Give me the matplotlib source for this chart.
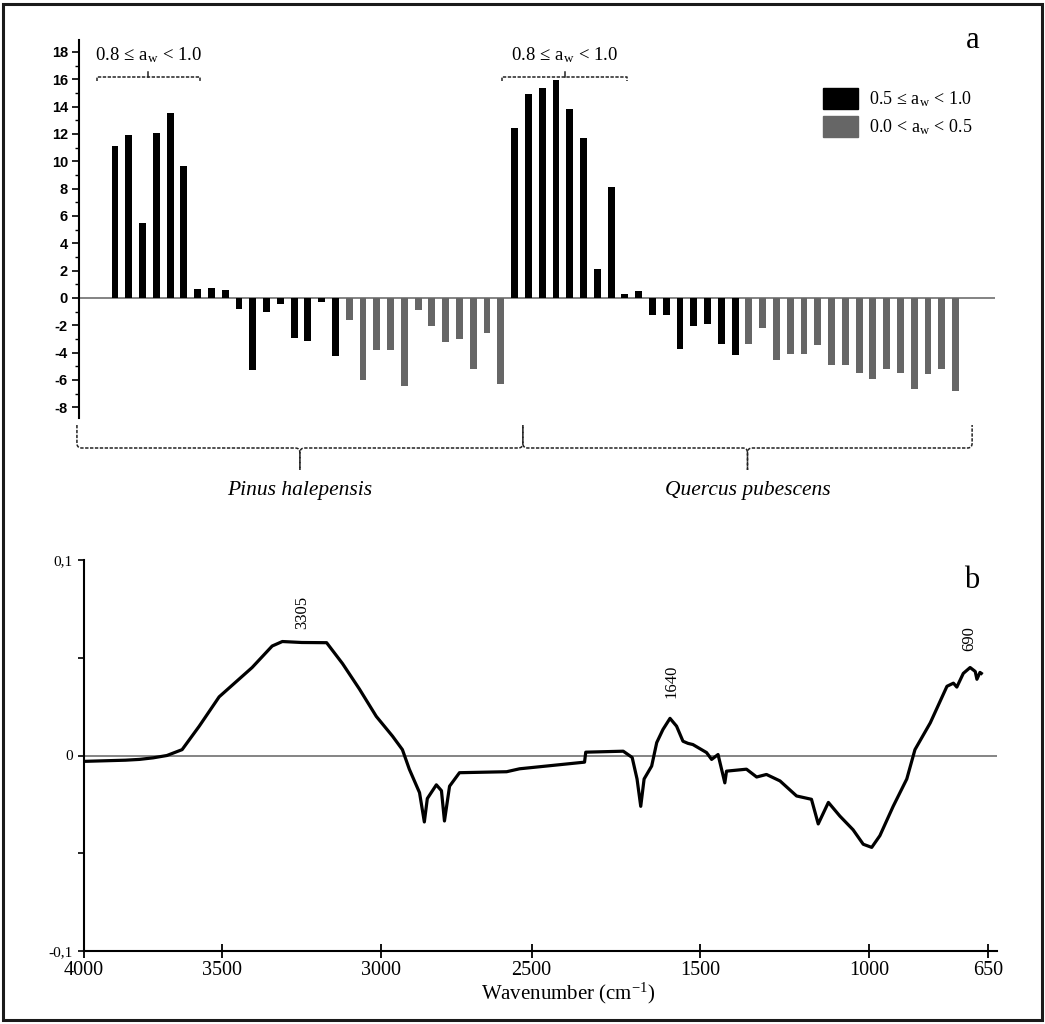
import matplotlib
matplotlib.use('Agg')
import matplotlib.pyplot as plt
import numpy as np
from matplotlib.patches import Patch, Rectangle
from matplotlib.lines import Line2D
from matplotlib.transforms import blended_transform_factory

plt.rcParams['font.family'] = ['Liberation Serif', 'DejaVu Serif']
plt.rcParams['mathtext.fontset'] = 'custom'
plt.rcParams['mathtext.rm'] = 'Liberation Serif'
plt.rcParams['mathtext.it'] = 'Liberation Serif:italic'

# ---- panel a: bar values (black = 0.5<=aw<1.0, gray = 0.0<aw<0.5)
pinus_high = [11.1, 11.9, 5.5, 12.1, 13.55, 9.65, 0.66, 0.76, 0.59, -0.78,
              -5.3, -1.05, -0.41, -2.95, -3.12, -0.32, -4.22]
pinus_low = [-1.59, -6.02, -3.83, -3.83, -6.46, -0.85, -2.02, -3.2, -3.0,
             -5.2, -2.56, -6.27]
quercus_high = [12.46, 14.95, 15.37, 15.93, 13.83, 11.73, 2.12, 8.12, 0.32,
                0.51, -1.22, -1.22, -3.76, -2.02, -1.88, -3.39, -4.2]
quercus_low = [-3.39, -2.2, -4.56, -4.1, -4.1, -3.46, -4.93, -4.93, -5.46,
               -5.93, -5.2, -5.46, -6.66, -5.54, -5.2, -6.83]
species = ['Pinus halepensis', 'Quercus pubescens']
legend_labels = [r'0.5$\,\leq\,$a$_{\mathrm{w}}$$\,<\,$1.0',
                 r'0.0$\,<\,$a$_{\mathrm{w}}$$\,<\,$0.5']
bracket_label = r'0.8$\,\leq\,$a$_{\mathrm{w}}$$\,<\,$1.0'

# ---- panel b: FTIR difference spectrum (wavenumber, absorbance)
wavenumber = [4000, 3950, 3900, 3850, 3800, 3750, 3700, 3645, 3583, 3511,
              3406, 3343, 3311, 3250, 3172, 3122, 3069, 3016, 2963, 2930,
              2907, 2873, 2857, 2847, 2817, 2800, 2790, 2773, 2740, 2583,
              2540, 2185, 2178, 1955, 1902, 1873, 1851, 1831, 1786, 1756,
              1719, 1677, 1638, 1600, 1570, 1541, 1480, 1465, 1446, 1426,
              1421, 1362, 1332, 1303, 1263, 1214, 1170, 1150, 1120, 1086,
              1047, 1017, 992, 968, 929, 889, 865, 820, 771, 752, 742, 723,
              703, 688, 683, 674, 670]
absorb = [-0.003, -0.0028, -0.0026, -0.0024, -0.002, -0.0012, 0.0, 0.003,
          0.015, 0.030, 0.045, 0.056, 0.0583, 0.0578, 0.0577, 0.047, 0.034,
          0.020, 0.0099, 0.003, -0.007, -0.019, -0.034, -0.022, -0.015,
          -0.018, -0.0335, -0.0157, -0.0088, -0.0083, -0.0068, -0.0034,
          0.0017, 0.0022, -0.001, -0.012, -0.026, -0.012, -0.0054, 0.0066,
          0.0133, 0.019, 0.015, 0.0073, 0.0062, 0.0056, 0.0015, -0.002,
          0.0005, -0.014, -0.008, -0.007, -0.011, -0.0097, -0.013, -0.0207,
          -0.0224, -0.035, -0.024, -0.031, -0.038, -0.0454, -0.047, -0.041,
          -0.026, -0.012, 0.003, 0.0167, 0.0354, 0.037, 0.035, 0.042, 0.045,
          0.043, 0.039, 0.0425, 0.042]
peaks = [3305, 1640, 690]
wn_ticks = [4000, 3500, 3000, 2500, 1500, 1000, 650]
# the original axis is not linear: tick positions
wn_anchor = [600, 650, 1000, 1500, 2500, 3000, 3500, 4000, 4100]
px_anchor = [1005, 988, 869, 700, 532, 382, 223, 85, 57]

W, H = 1045, 1024
fig = plt.figure(figsize=(W / 100, H / 100), dpi=100)
BLACK = '#000000'
GRAY = '#666666'

# ================= panel a =================
ax = fig.add_axes([79 / W, 1 - 418 / H, (995 - 79) / W, (418 - 40) / H])
vals = pinus_high + pinus_low + quercus_high + quercus_low
cols = ([BLACK] * len(pinus_high) + [GRAY] * len(pinus_low)
        + [BLACK] * len(quercus_high) + [GRAY] * len(quercus_low))
xpos = np.arange(len(vals))
ax.bar(xpos, vals, width=0.5, color=cols, zorder=2)
ax.axhline(0, color='#7a7a7a', lw=1.3, zorder=1)
ax.set_xlim(-2.61, 63.86)
ax.set_ylim(-8.78, 18.87)
ax.set_xticks([])
for s in ['top', 'right', 'bottom']:
    ax.spines[s].set_visible(False)
ax.spines['left'].set_linewidth(1.5)
yt = list(range(-8, 19, 2))
ax.set_yticks(yt)
ax.set_yticks(list(range(-7, 19, 2)), minor=True)
ax.set_yticklabels([str(v) for v in yt], fontfamily='Liberation Sans',
                   fontweight='bold', fontsize=10.5)
ax.tick_params(axis='y', which='major', direction='out', length=5, width=1.2, pad=3)
ax.tick_params(axis='y', which='minor', direction='out', length=3, width=1.0)

# small brackets over the high-aw bars
dash = (0, (2.2, 1.0))
for lo, hi in [(-1.3, 6.15), (28.1, 37.15)]:
    mid = (lo + hi) / 2
    ax.plot([lo, lo, hi, hi], [15.85, 16.17, 16.17, 15.85], color='#222222',
            lw=1.1, ls=dash, clip_on=False)
    ax.plot([mid, mid], [16.17, 16.55], color='#222222', lw=1.1, clip_on=False)
    ax.text(mid, 17.75, bracket_label, ha='center', va='center', fontsize=13.5)

# legend
handles = [Patch(facecolor=BLACK, edgecolor=BLACK),
           Patch(facecolor=GRAY, edgecolor=GRAY)]
fig.legend(handles, legend_labels, loc='upper left',
           bbox_to_anchor=(807 / W, 1 - 72 / H), frameon=False, fontsize=13,
           handlelength=1.9, handleheight=1.35, handletextpad=0.65,
           labelspacing=0.4, borderpad=0.4)

fig.text(973 / W, 1 - 40 / H, 'a', fontsize=22, ha='center', va='center')

# curly braces under panel a (x in bar units, y in figure pixels)
tr = blended_transform_factory(ax.transData, fig.transFigure)


def bez(p0, c, p2, n=12):
    t = np.linspace(0, 1, n)[:, None]
    return (1 - t) ** 2 * np.array(p0) + 2 * (1 - t) * t * np.array(c) + t ** 2 * np.array(p2)


def brace(x0, x1, y_end, y_line, y_tip, r=0.35, ry=5):
    xm = (x0 + x1) / 2
    pts = [np.array([[x0, y_end]]),
           bez((x0, y_line - ry), (x0, y_line), (x0 + r, y_line)),
           bez((xm - r, y_line), (xm, y_line), (xm, y_line + ry)),
           np.array([[xm, y_tip]])]
    left = np.vstack(pts)
    pts = [np.array([[xm, y_tip]]),
           bez((xm, y_line + ry), (xm, y_line), (xm + r, y_line)),
           bez((x1 - r, y_line), (x1, y_line), (x1, y_line - ry)),
           np.array([[x1, y_end]])]
    right = np.vstack(pts)
    for p in (left, right):
        fig.add_artist(Line2D(p[:, 0], 1 - p[:, 1] / H, transform=tr,
                              color='#222222', lw=1.1, ls=dash))
    return xm


for (x0, x1), name in zip([(-2.76, 29.6), (29.6, 62.2)], species):
    xm = brace(x0, x1, 425, 448, 470)
    fig.text(xm, 1 - 490 / H, name, transform=tr, ha='center', va='center',
             fontsize=15.5, style='italic')

# ================= panel b =================
def fwd(w):
    return -np.interp(w, wn_anchor, px_anchor)


def inv(t):
    return np.interp(-t, px_anchor[::-1], wn_anchor[::-1])


ax2 = fig.add_axes([84 / W, 1 - 951 / H, (997 - 84) / W, (951 - 560) / H])
ax2.set_xscale('function', functions=(fwd, inv))
ax2.plot(wavenumber, absorb, color='black', lw=2.3, zorder=3)
ax2.axhline(0, color='#707070', lw=1.2, zorder=1)
ax2.set_xlim(4000, 624)
ax2.set_ylim(-0.1, 0.1)
for s in ['top', 'right']:
    ax2.spines[s].set_visible(False)
ax2.spines['left'].set_linewidth(1.5)
ax2.spines['bottom'].set_linewidth(1.5)
ax2.set_xticks(wn_ticks)
ax2.set_xticks([], minor=True)
ax2.set_xticklabels([str(v) for v in wn_ticks], fontsize=14.5)
ax2.set_yticks([-0.1, -0.05, 0, 0.05, 0.1])
ax2.set_yticklabels(['-0,1', '', '0', '', '0,1'], fontsize=11)
ax2.tick_params(axis='x', direction='inout', length=10, width=1.3, pad=2)
ax2.tick_params(axis='y', direction='out', length=4, width=1.2, pad=4)
ax2.set_xlabel('Wavenumber (cm$^{-1}$)', fontsize=15)
ax2.xaxis.set_label_coords(0.53, -0.075)

peak_pos = [(3250, 0.073), (1667, 0.038), (706, 0.060)]
for p, (xw, yv) in zip(peaks, peak_pos):
    ax2.text(xw, yv, str(p), rotation=90, ha='center', va='center', fontsize=12)

fig.text(972 / W, 1 - 580 / H, 'b', fontsize=22, ha='center', va='center')

# outer frame
fig.patches.append(Rectangle((2.5 / W, 4 / H), (1042 - 2.5) / W, (1020 - 4) / H,
                             transform=fig.transFigure, fill=False,
                             edgecolor='#1a1a1a', lw=2.2))

fig.savefig('out.png', dpi=100)
